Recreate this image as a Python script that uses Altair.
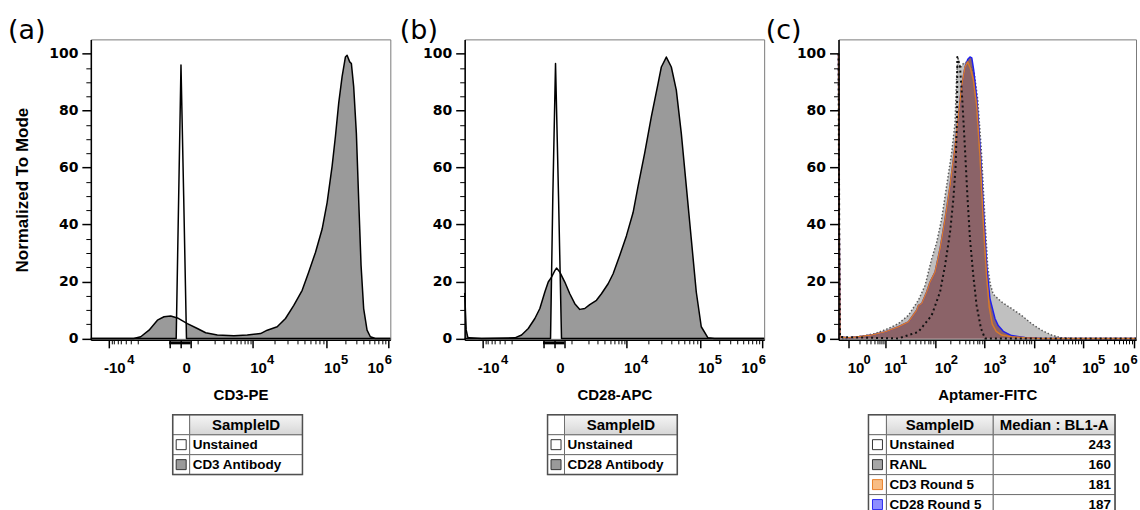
import altair as alt
import pandas as pd

# ---------------- data ----------------
# x: position along each axis in display-channel units (biexponential display), y: % of mode
# Panel (a) CD3-PE
A_UNST_X = [0, 85.5, 88.0, 90.3, 93.0, 95.8, 300]
A_UNST_Y = [0, 0, 50, 96, 50, 0, 0]
A_CD3_X = [0, 43, 50, 58.3, 66.7, 73.3, 80, 86.7, 96.7, 106.7, 115, 126.7, 143.3, 156.7, 170, 176.7,
           186.7, 195, 203.3, 211.7, 218.3, 225, 231.7, 236.7, 241.7, 245, 248.3, 251.7, 255, 256.7,
           259.3, 261, 263.3, 266, 268.3, 270.7, 273.3, 276.7, 280, 285, 300]
A_CD3_Y = [0, 0, 0.6, 2.9, 6.4, 7.6, 7.9, 7.2, 5.2, 3.5, 2.0, 1.2, 0.9, 1.2, 1.7, 2.9,
           4.1, 7, 11.6, 16.9, 23.3, 30.2, 38.4, 47.7, 60.5, 70.9, 82.6, 91.9, 98.8, 99.4,
           97.1, 96.5, 88.4, 72, 48.8, 25.6, 10.5, 2.9, 0.6, 0, 0]

# Panel (b) CD28-APC
B_UNST_X = [0, 86.0, 88.3, 91.0, 94.0, 97.0, 300]
B_UNST_Y = [0, 0, 50, 96.5, 50, 0, 0]
B_CD28_X = [0, 1.5, 3, 4.3, 17, 50.3, 57, 63.7, 70.3, 75.3, 80.3, 83.7, 87, 90.3, 92, 95.3, 100.3,
            105.3, 110.3, 115.3, 120.3, 125.3, 132, 137, 143.7, 148.7, 155.3, 162, 168.7, 173.7,
            180.3, 187, 193.7, 197, 202, 207, 212, 217, 222, 227, 232, 237, 243.7, 250.3, 300]
B_CD28_Y = [16, 3, 0.5, 0.2, 0, 0.2, 1.2, 3.5, 7, 10.5, 16.3, 19.8, 21.5, 23.8, 24.7, 23.3, 19.8,
            15.7, 12.2, 10.2, 10.5, 11.9, 13.4, 15.7, 19.2, 22.7, 29.1, 36, 44.2, 53.5,
            65.1, 77.9, 89.5, 95.3, 98.8, 95.3, 87.2, 72, 53.5, 34.9, 16.3, 4.1, 0.2, 0, 0]

# Panel (c) Aptamer-FITC
C_UNST_X = [0, 0.7, 1.5, 60, 80, 93.3, 101.7, 106.7, 111.7, 115, 117.3, 118.7, 119, 121.7, 124,
            126.7, 129.3, 131.7, 135, 138.3, 142.7, 146.7, 298]
C_UNST_Y = [100, 40, 0.5, 0, 2.3, 8.1, 16.3, 25.6, 37.2, 48.8, 60.5, 77.9, 98.8, 95.3, 83.7,
            66.3, 48.8, 34.9, 22.1, 11.6, 3.5, 0, 0]
C_RANL_X = [0, 10, 20, 36.7, 50, 60, 70, 80, 86.7, 93.3, 98.3, 103.3, 108.3, 113.3, 116.7, 118.3,
            119.5, 122, 125, 128, 132, 136, 139.5, 143, 146.5, 149.5, 152, 155, 163.3, 173.3,
            183.3, 193.3, 203.3, 213.3, 223.3, 233.3, 298]
C_RANL_Y = [0, 0, 0.6, 1.7, 3.5, 5.2, 8.1, 13.4, 18.6, 27.9, 33.7, 41.9, 53.5, 65.1, 75.6, 91.9,
            98.8, 95, 96.5, 97, 95.5, 93, 83.7, 66.3, 43, 25, 19, 15.5, 12.8, 10.5,
            8.1, 5.2, 2.9, 1.2, 0.2, 0, 0]
C_CD3R5_X = [0, 0.7, 1.5, 10, 20, 33.3, 46.7, 60, 70, 78.3, 80, 83.3, 88.3, 91.7, 96.7, 101.7,
             106.7, 111.7, 116.7, 120, 123.3, 126.7, 129.3, 132, 135, 138.3, 141.7, 145, 148.3,
             151, 154, 158, 163.3, 173.3, 186.7, 203.3, 298]
C_CD3R5_Y = [100, 40, 0.5, 0.2, 0.6, 1.2, 2.3, 4.1, 5.8, 9.9, 11.6, 12.2, 16.3, 19.8, 23.3, 31.4,
             41.9, 53.5, 67.4, 77.9, 88.4, 95.3, 97.1, 95, 91, 82, 64, 41, 22,
             11, 5, 2.5, 1.2, 0.6, 0.2, 0, 0]
C_CD28R5_X = [0, 0.7, 1.5, 10, 20, 33.3, 46.7, 60, 70, 78.3, 80, 83.3, 88.3, 91.7, 96.7, 101.7,
              106.7, 111.7, 116.7, 120, 123.3, 126.7, 129.5, 131.7, 133.5, 135.5, 138.5, 142,
              145.5, 148.5, 151.7, 156.7, 160, 165, 173.3, 186.7, 203.3, 298]
C_CD28R5_Y = [100, 40, 0.5, 0.2, 0.6, 1.2, 2.3, 4.1, 5.8, 9.9, 11.6, 12.2, 16.3, 19.8, 23.3, 31.4,
              41.9, 53.5, 67.4, 77.9, 88.4, 95.3, 98, 98.8, 98.5, 94, 84, 66,
              43, 25, 14, 7, 4.5, 2.5, 1, 0.3, 0, 0]

# axis ticks (display-channel positions) and labels
AB_MAJOR = [18, 90, 162, 236, 298]
AB_BASE = ["-10", "0", "10", "10", "10"]
AB_SUP = ["4", "", "4", "5", "6"]
AB_ZERO_BRACKET = [78.5, 100]
AB_MINOR = [20.5, 23.3, 26.5, 30.1, 34.5, 39.8, 46.6, 107.3, 123.8, 133.4, 140.2, 145.5, 149.9,
            153.5, 156.7, 159.5, 184.3, 197.3, 206.6, 213.7, 219.6, 224.5, 228.8, 232.6, 254.7,
            265.6, 273.3, 279.3, 284.2, 288.4, 292, 295.2]
C_MAJOR = [10, 46.7, 97.3, 146, 195.7, 245, 296]
C_BASE = ["10", "10", "10", "10", "10", "10", "10"]
C_SUP = ["0", "1", "2", "3", "4", "5", "6"]
C_MINOR = [21.0, 27.5, 32.1, 35.6, 38.6, 41.0, 43.1, 45.0,
           61.9, 70.8, 77.2, 82.1, 86.1, 89.5, 92.4, 95.0,
           112.0, 120.5, 126.6, 131.4, 135.2, 138.5, 141.3, 143.8,
           161.0, 169.7, 175.9, 180.7, 184.7, 188.0, 190.9, 193.4,
           210.5, 219.2, 225.4, 230.2, 234.1, 237.4, 240.2, 242.7,
           260.4, 269.3, 275.7, 280.6, 284.7, 288.1, 291.1, 293.7]
Y_MAJOR = [0, 20, 40, 60, 80, 100]
Y_MINOR = [5, 10, 15, 25, 30, 35, 45, 50, 55, 65, 70, 75, 85, 90, 95]

# legend tables
TA_NAMES = ["Unstained", "CD3 Antibody"]
TB_NAMES = ["Unstained", "CD28 Antibody"]
TC_NAMES = ["Unstained", "RANL", "CD3 Round 5", "CD28 Round 5"]
TC_MEDIANS = [243, 160, 181, 187]

# ---------------- styling ----------------
H = 301
SANS = "Liberation Sans"
TICKF = "DejaVu Sans"
FRAME = "#7a7a7a"
MAUVE = "#8b6368"


def make_expr(vals, labels):
    v = "[" + ",".join(str(x) for x in vals) + "]"
    l = "[" + ",".join("'" + s + "'" for s in labels) + "]"
    return f"indexof({v}, datum.value) >= 0 ? {l}[indexof({v}, datum.value)] : ''"


def panel(curves, xmax, major, base, sup, minor, extra_major, xtitle, letter, letter_dx,
          ytitle=None, bracket=None, base_off=5.5, sup_off=14, neg_sup_off=None):
    xs = alt.Scale(domain=[0, xmax], nice=False, zero=False)
    ys = alt.Scale(domain=[-0.5, 105], nice=False, zero=False)
    layers = []
    for c in curves:
        if c.get("fill"):
            df = pd.DataFrame({"x": c["x"], "y": c["y"]})
            layers.append(alt.Chart(df).mark_area(fill=c["fill"], fillOpacity=1, strokeWidth=0).encode(
                x=alt.X("x:Q", scale=xs, axis=None),
                y=alt.Y("y:Q", scale=ys, axis=None),
                y2=alt.datum(0)))
    for c in curves:
        df = pd.DataFrame({"x": c["x"], "y": c["y"]})
        kw = dict(color=c["stroke"], strokeWidth=c["sw"], strokeJoin="round")
        if c.get("dash"):
            kw["strokeDash"] = c["dash"]
        layers.append(alt.Chart(df).mark_line(**kw).encode(
            x=alt.X("x:Q", scale=xs, axis=None),
            y=alt.Y("y:Q", scale=ys, axis=None)))
    if bracket:
        bdf = pd.DataFrame({"x": [bracket[0]], "x2": [bracket[1]]})
        layers.append(alt.Chart(bdf).mark_rule(color="black", strokeWidth=3).encode(
            x=alt.X("x:Q", scale=xs, axis=None), x2="x2:Q", y=alt.value(H + 3)))

    last = major[-1]
    first = major[0]
    sup_conds = [{"test": f"datum.value == {last}", "value": -4}]
    if neg_sup_off is not None:
        sup_conds.append({"test": f"datum.value == {first}", "value": neg_sup_off})
    base_axis = alt.Axis(
        orient="bottom", values=major + extra_major, labelExpr=make_expr(major, base),
        tickSize=8, tickWidth=1.5, tickColor="black",
        domain=True, domainColor="black", domainWidth=1.5,
        labelFont=SANS, labelFontWeight="bold", labelFontSize=15, labelColor="black",
        labelBaseline="alphabetic", labelAlign="center", labelPadding=25,
        labelOffset={"condition": {"test": f"datum.value == {last}", "value": -13}, "value": base_off},
        labelOverlap=False, labelFlush=False, grid=False,
        title=xtitle, titleFont=SANS, titleFontWeight="bold", titleFontSize=15, titleColor="black",
        titleX=xmax / 2, titleY=60, titleAlign="center", titleBaseline="alphabetic", zindex=1)
    sup_axis = alt.Axis(
        orient="bottom", values=major, labelExpr=make_expr(major, sup),
        ticks=False, tickSize=0, domain=False,
        labelFont=SANS, labelFontWeight="bold", labelFontSize=13, labelColor="black",
        labelBaseline="alphabetic", labelAlign="left", labelPadding=24,
        labelOffset={"condition": sup_conds, "value": sup_off},
        labelOverlap=False, labelFlush=False, grid=False, title=None, zindex=1)
    minor_axis = alt.Axis(orient="bottom", values=minor, tickSize=4, tickWidth=1, tickColor="black",
                          labels=False, domain=False, grid=False, title=None, zindex=1)
    yargs = dict(orient="left", values=Y_MAJOR, tickSize=9, tickWidth=1.5, tickColor="black",
                 domainColor="black", domainWidth=1.5, labelFont=TICKF, labelFontWeight="bold",
                 labelFontSize=14, labelColor="black", labelPadding=4, grid=False, zindex=1)
    if ytitle:
        yargs.update(title=ytitle, titleFont=SANS, titleFontWeight="bold", titleFontSize=17,
                     titleColor="black", titleX=-63, titleY=H / 2, titleAngle=270,
                     titleAlign="center", titleBaseline="alphabetic")
    else:
        yargs["title"] = None
    y_major = alt.Axis(**yargs)
    y_minor = alt.Axis(orient="left", values=Y_MINOR, tickSize=5, tickWidth=1, tickColor="black",
                       labels=False, domain=False, grid=False, title=None, zindex=1)

    cdf = pd.DataFrame({"x": major, "y": [0] * len(major)})
    c1 = alt.Chart(cdf).mark_point(opacity=0).encode(
        x=alt.X("x:Q", scale=xs, axis=base_axis), y=alt.Y("y:Q", scale=ys, axis=y_major))
    c2 = alt.Chart(cdf).mark_point(opacity=0).encode(
        x=alt.X("x:Q", scale=xs, axis=minor_axis), y=alt.Y("y:Q", scale=ys, axis=y_minor))
    c3 = alt.Chart(cdf).mark_point(opacity=0).encode(
        x=alt.X("x:Q", scale=xs, axis=sup_axis), y=alt.Y("y:Q", scale=ys, axis=None))

    return alt.layer(*layers, c1, c2, c3).resolve_axis(x="independent", y="independent").properties(
        width=xmax, height=H,
        title=alt.TitleParams(text=letter, anchor="start", frame="group", dx=letter_dx, offset=-27,
                              baseline="alphabetic", font=TICKF, fontSize=27, fontWeight="normal",
                              color="black"),
        view=alt.ViewBackground(stroke=FRAME, strokeWidth=1))


GRAD = alt.LinearGradient(gradient="linear",
                          stops=[alt.GradientStop(color="#f6f6f6", offset=0),
                                 alt.GradientStop(color="#d6d6d6", offset=1)],
                          x1=0, x2=0, y1=0, y2=1)


def table(width, edges, headers, names, sw_fill, sw_stroke, values=None):
    n = len(names) + 1
    xs = alt.Scale(domain=[0, width], nice=False, zero=False)
    ys = alt.Scale(domain=[n, 0], nice=False, zero=False)
    rows = []
    for r in range(n):
        for c in range(len(edges) - 1):
            rows.append({"x0": edges[c], "x1": edges[c + 1], "y0": r, "y1": r + 1,
                         "hdr": 1 if (r == 0 and c > 0) else 0})
    cells = pd.DataFrame(rows)
    enc = dict(x=alt.X("x0:Q", scale=xs, axis=None), x2="x1:Q",
               y=alt.Y("y0:Q", scale=ys, axis=None), y2="y1:Q")
    body = alt.Chart(cells[cells.hdr == 0]).mark_rect(fill="white", stroke="#6e6e6e", strokeWidth=1).encode(**enc)
    head = alt.Chart(cells[cells.hdr == 1]).mark_rect(fill=GRAD, stroke="#6e6e6e", strokeWidth=1).encode(**enc)
    outer = alt.Chart(pd.DataFrame({"x0": [edges[0]], "x1": [edges[-1]], "y0": [0], "y1": [n]})).mark_rect(
        filled=False, stroke="#505050", strokeWidth=1.5).encode(**enc)
    sw = pd.DataFrame({"x": [(edges[0] + edges[1]) / 2] * len(names),
                       "y": [i + 1.5 for i in range(len(names))],
                       "f": sw_fill, "s": sw_stroke})
    swatch = alt.Chart(sw).mark_square(size=100, filled=True, strokeWidth=1, opacity=1).encode(
        x=alt.X("x:Q", scale=xs, axis=None), y=alt.Y("y:Q", scale=ys, axis=None),
        fill=alt.Fill("f:N", scale=None), stroke=alt.Stroke("s:N", scale=None))
    hdr = pd.DataFrame({"x": [(edges[i] + edges[i + 1]) / 2 for i in range(1, len(edges) - 1)],
                        "y": [0.5] * len(headers), "t": headers})
    t_h = alt.Chart(hdr).mark_text(font=SANS, fontWeight="bold", fontSize=15, color="black",
                                   baseline="middle", align="center").encode(
        x=alt.X("x:Q", scale=xs, axis=None), y=alt.Y("y:Q", scale=ys, axis=None), text="t:N")
    ndf = pd.DataFrame({"x": [edges[1]] * len(names), "y": [i + 1.5 for i in range(len(names))], "t": names})
    t_n = alt.Chart(ndf).mark_text(font=SANS, fontWeight="bold", fontSize=13.5, color="black",
                                   baseline="middle", align="left", dx=3).encode(
        x=alt.X("x:Q", scale=xs, axis=None), y=alt.Y("y:Q", scale=ys, axis=None), text="t:N")
    layers = [body, head, outer, swatch, t_h, t_n]
    if values is not None:
        vdf = pd.DataFrame({"x": [edges[-1]] * len(values), "y": [i + 1.5 for i in range(len(values))],
                            "t": [str(v) for v in values]})
        layers.append(alt.Chart(vdf).mark_text(font=SANS, fontWeight="bold", fontSize=13.5, color="black",
                                               baseline="middle", align="right", dx=-4).encode(
            x=alt.X("x:Q", scale=xs, axis=None), y=alt.Y("y:Q", scale=ys, axis=None), text="t:N"))
    return alt.layer(*layers).properties(width=width, height=n * 20,
                                          view=alt.ViewBackground(stroke="transparent"))


pa = panel([
    {"x": A_CD3_X, "y": A_CD3_Y, "fill": "#9a9a9a", "stroke": "black", "sw": 1.5},
    {"x": A_UNST_X, "y": A_UNST_Y, "fill": "white", "stroke": "black", "sw": 1.5},
], 300, AB_MAJOR, AB_BASE, AB_SUP, AB_MINOR, AB_ZERO_BRACKET, "CD3-PE", "(a)", -83,
    ytitle="Normalized To Mode", bracket=AB_ZERO_BRACKET, neg_sup_off=18)
pb = panel([
    {"x": B_CD28_X, "y": B_CD28_Y, "fill": "#9a9a9a", "stroke": "black", "sw": 1.5},
    {"x": B_UNST_X, "y": B_UNST_Y, "fill": "white", "stroke": "black", "sw": 1.5},
], 300, AB_MAJOR, AB_BASE, AB_SUP, AB_MINOR, AB_ZERO_BRACKET, "CD28-APC", "(b)", -65,
    bracket=AB_ZERO_BRACKET, neg_sup_off=18)
pc = panel([
    {"x": C_RANL_X, "y": C_RANL_Y, "fill": "#c0c0c0", "stroke": "#5a5a5a", "sw": 1.5, "dash": [1.5, 2]},
    {"x": C_CD28R5_X, "y": C_CD28R5_Y, "fill": MAUVE, "stroke": "#2020ee", "sw": 1.5},
    {"x": C_CD3R5_X, "y": C_CD3R5_Y, "fill": MAUVE, "stroke": "#d77a2a", "sw": 1.5},
    {"x": C_UNST_X, "y": C_UNST_Y, "stroke": "#111111", "sw": 2, "dash": [2, 3]},
], 298, C_MAJOR, C_BASE, C_SUP, C_MINOR, [], "Aptamer-FITC", "(c)", -73, base_off=7, sup_off=14.5)

ta = table(300, [82, 99, 212], ["SampleID"], TA_NAMES, ["#ffffff", "#9a9a9a"], ["#333333", "#333333"])
tb = table(300, [83, 100, 213], ["SampleID"], TB_NAMES, ["#ffffff", "#9a9a9a"], ["#333333", "#333333"])
tc = table(298, [30, 48, 155, 277], ["SampleID", "Median : BL1-A"], TC_NAMES,
           ["#ffffff", "#a6a6a6", "#f8bd84", "#8e8eff"], ["#333333", "#333333", "#e8822a", "#2a2af0"],
           values=TC_MEDIANS)

chart = alt.concat(pa, pb, pc, ta, tb, tc, columns=3, spacing={"row": 75, "column": 74.5},
                   bounds="flush").properties(
    padding={"left": 7, "top": 16, "right": 2, "bottom": 0}
).configure(font=SANS)

chart.save("out.html", embed_options={"renderer": "svg", "actions": False})
